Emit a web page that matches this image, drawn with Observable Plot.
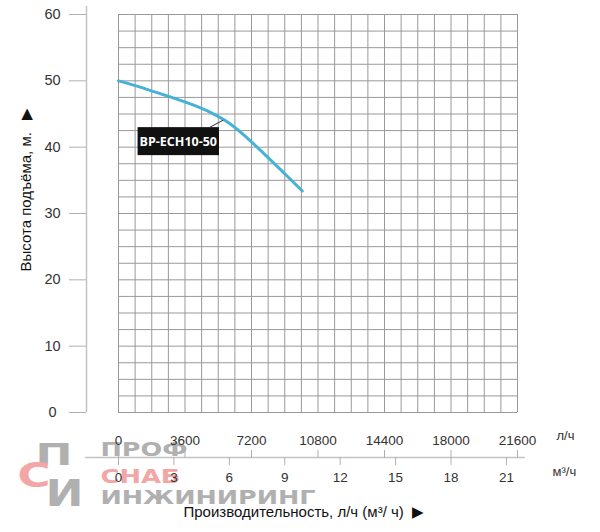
<!DOCTYPE html>
<html><head><meta charset="utf-8">
<script src="https://cdn.jsdelivr.net/npm/d3@7"></script>
<script src="https://cdn.jsdelivr.net/npm/@observablehq/plot@0.6"></script>
<style>body{margin:0;background:#fff} #chart{width:600px;height:532px}</style>
</head><body><div id="chart"></div>
<script>
// Data (flow in m³/h, head in m)
const flow = [0, 1, 2, 3, 4, 5, 6, 7, 8, 9, 9.95];
const head = [50, 49.2, 48.3, 47.4, 46.4, 45.2, 43.6, 41.3, 38.7, 36.0, 33.4];
const lphTicks = [0, 3600, 7200, 10800, 14400, 18000, 21600];
const m3hTicks = [0, 3, 6, 9, 12, 15, 18, 21];
const headTicks = [0, 10, 20, 30, 40, 50, 60];
const modelName = "BP-ECH10-50";
const labelFlow = 5.7, labelHead = 44.0;
const xMax = 21.6, yMax = 60;
const gridXStep = 0.9, gridYStep = 2.5;
const xTitle = "Производительность, л/ч (м³/ ч)  ▶";
const yTitle = "Высота подъёма, м.   ▶";
const unitLph = "л/ч", unitM3h = "м³/ч";
const wmWords = ["ПРОФ", "СНАБ", "ИНЖИНИРИНГ"];
const wmIcon = ["П", "С", "И"];

const data = flow.map((q, i) => ({q, h: head[i]}));
const font = "'Liberation Sans', Arial, sans-serif";
const gray = "#b0b0b0", pink = "#f2a6a6";

const wm = (t, key, o) => Plot.text([t], {frameAnchor: "bottom-left", textAnchor: "start", lineAnchor: "top", fontWeight: "bold", fontFamily: "'DejaVu Sans', sans-serif", ariaLabel: () => key, ...o});

const plot = Plot.plot({
  width: 600, height: 532,
  marginLeft: 118, marginRight: 83, marginTop: 14, marginBottom: 120,
  style: {fontFamily: font, color: "#222", background: "#fff", overflow: "visible"},
  x: {domain: [0, xMax], axis: null},
  y: {domain: [0, yMax], axis: null},
  marks: [
    // watermark
    wm(wmIcon[0], "wm-i0", {dx: -83, dy: 30, fontSize: 31, fill: gray}),
    wm(wmIcon[1], "wm-i1", {dx: -101, dy: 51, fontSize: 33, fill: pink}),
    wm(wmIcon[2], "wm-i2", {dx: -73, dy: 67, fontSize: 37, fill: gray}),
    wm(wmWords[0], "wm-w0", {dx: -18, dy: 30, fontSize: 19, fill: gray}),
    wm(wmWords[1], "wm-w1", {dx: -18, dy: 57, fontSize: 19, fill: pink}),
    wm(wmWords[2], "wm-w2", {dx: -18, dy: 78, fontSize: 19, fill: gray}),
    // grid
    Plot.gridX(d3.range(0, xMax + 1e-6, gridXStep), {stroke: "#999", strokeOpacity: 1}),
    Plot.gridY(d3.range(0, yMax + 1e-6, gridYStep), {stroke: "#999", strokeOpacity: 1}),
    // y axis
    Plot.ruleX([0], {dx: -32, insetTop: -8, stroke: "#c4c4c4", strokeWidth: 1.5}),
    Plot.axisY({ticks: headTicks, dx: -32, tickSize: 17, tickPadding: 17, textAnchor: "middle", fontSize: 14.5, stroke: "#b0b0b0", fill: "#333", label: null}),
    // x axes
    Plot.ruleY([0], {dy: 45, insetLeft: -33, insetRight: -8, stroke: "#c4c4c4", strokeWidth: 1.5}),
    Plot.axisX({anchor: "top", ticks: lphTicks.map(v => v / 1000), tickFormat: v => String(Math.round(v * 1000)), dy: 443, tickSize: 8, tickPadding: 5, fontSize: 13.5, stroke: "#b0b0b0", fill: "#333", label: null}),
    Plot.axisX({anchor: "bottom", ticks: m3hTicks, dy: 45, tickSize: 8, tickPadding: 7, fontSize: 13.5, stroke: "#b0b0b0", fill: "#333", label: null}),
    Plot.text([unitLph], {x: xMax, frameAnchor: "bottom", textAnchor: "start", dx: 39, dy: 27, fontSize: 13, fill: "#333"}),
    Plot.text([unitM3h], {x: xMax, frameAnchor: "bottom", textAnchor: "start", dx: 35, dy: 63, fontSize: 13, fill: "#333"}),
    // titles
    Plot.text([xTitle], {frameAnchor: "bottom-left", textAnchor: "start", dx: 65, dy: 104, fontSize: 15, fill: "#111"}),
    Plot.text([yTitle], {frameAnchor: "left", textAnchor: "start", rotate: -90, dx: -92, dy: 58, fontSize: 15, fill: "#111"}),
    // curve
    Plot.line(data, {x: "q", y: "h", curve: "monotone-x", stroke: "#46b2d5", strokeWidth: 3}),
    // label
    Plot.text([modelName], {x: labelFlow, y: labelHead, dx: -45.5, dy: 21.5, fill: "white", fontWeight: "bold", fontFamily: "'Open Sans', sans-serif", fontSize: 12.5, ariaLabel: () => "model-label"})
  ]
});

document.getElementById("chart").append(plot);

// watermark widths
const wmLen = {"wm-i0": 37, "wm-i1": 33, "wm-i2": 38, "wm-w0": 87, "wm-w1": 80, "wm-w2": 215};
const svg = d3.select(plot);
for (const [k, v] of Object.entries(wmLen)) {
  svg.selectAll(`text[aria-label="${k}"]`).attr("textLength", v).attr("lengthAdjust", "spacingAndGlyphs");
}

// label box + leader
const t = svg.select('text[aria-label="model-label"]');
if (!t.empty()) {
  const g = d3.select(t.node().parentNode);
  const bb = t.node().getBBox();
  const rect = g.insert("rect", "text")
    .attr("transform", t.attr("transform"))
    .attr("x", bb.x - 2).attr("y", bb.y - 6)
    .attr("width", bb.width + 4).attr("height", bb.height + 11)
    .attr("fill", "#111");
  const r0 = plot.getBoundingClientRect();
  const rb = rect.node().getBoundingClientRect();
  const px = plot.scale("x").apply(labelFlow), py = plot.scale("y").apply(labelHead);
  svg.append("line")
    .attr("x1", rb.right - r0.left - 9).attr("y1", rb.top - r0.top)
    .attr("x2", px).attr("y2", py)
    .attr("stroke", "#333").attr("stroke-width", 1);
}
</script>
</body></html>
